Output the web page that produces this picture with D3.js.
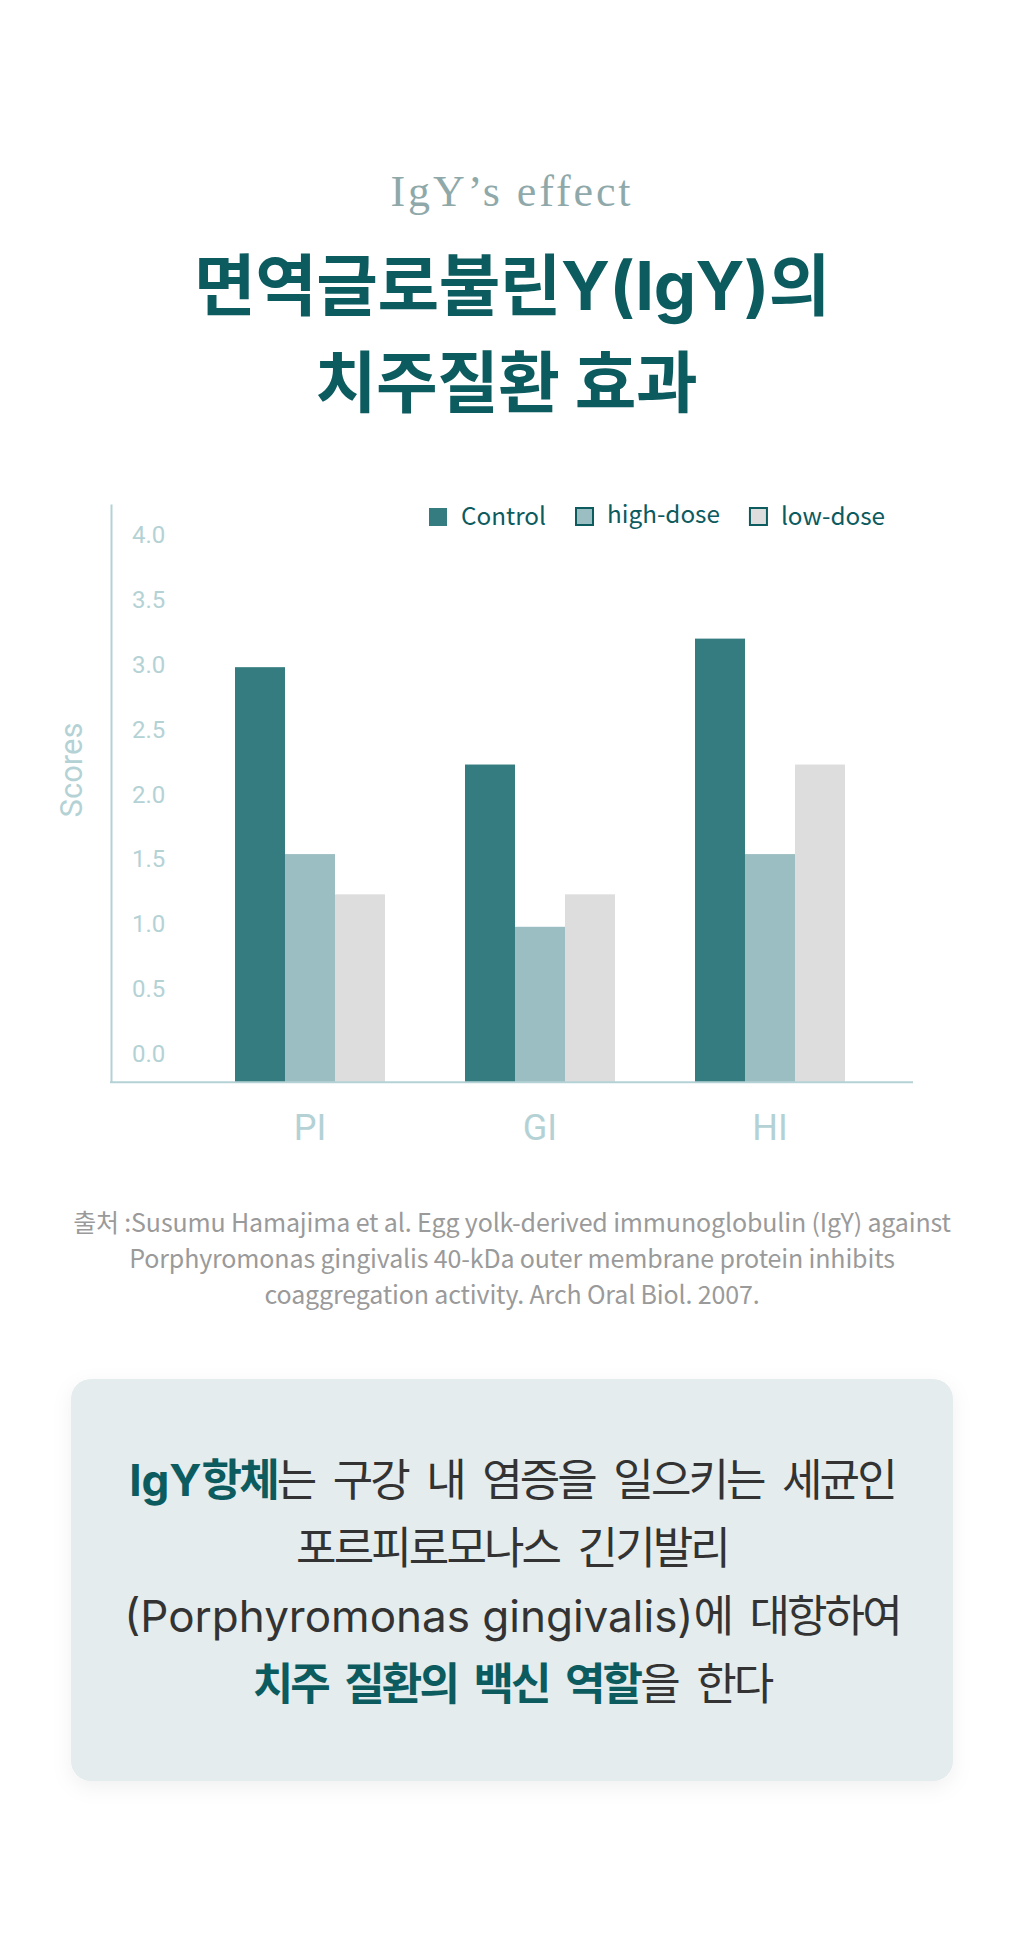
<!DOCTYPE html>
<html>
<head>
<meta charset="utf-8">
<script src="https://cdn.jsdelivr.net/npm/d3@7"></script>
<style>
  html, body { margin: 0; padding: 0; background: #fff; }
  svg { display: block; }
</style>
</head>
<body>
<div id="root"></div>
<script>
const categories = ['PI', 'GI', 'HI'];
const series = ['Control', 'high-dose', 'low-dose'];
const controlValues = [2.98, 2.23, 3.2];
const highDoseValues = [1.54, 0.98, 1.54];
const lowDoseValues = [1.23, 1.23, 2.23];
const yTicks = [0, 0.5, 1, 1.5, 2, 2.5, 3, 3.5, 4];

const subTitle = 'IgY\u2019s effect';
const titleLines = ['면역글로불린Y(IgY)의', '치주질환 효과'];
const sourceLines = [
    '출처 :Susumu Hamajima et al. Egg yolk-derived immunoglobulin (IgY) against',
    'Porphyromonas gingivalis 40-kDa outer membrane protein inhibits',
    'coaggregation activity. Arch Oral Biol. 2007.',
];
// [text, highlighted]
const boxLines = [
    [['IgY항체', true], ['는 구강 내 염증을 일으키는 세균인', false]],
    [['포르피로모나스 긴기발리', false]],
    [['(Porphyromonas gingivalis)에 대항하여', false]],
    [['치주 질환의 백신 역할', true], ['을 한다', false]],
];

const W = 1024;
const H = 1954;
const teal = '#0c5b5f';
const axisColor = '#b4d2d5';
const colors = d3.scaleOrdinal().domain(series).range(['#357c80', '#9abec1', '#dddddd']);
const kFont = "Inter, 'Noto Sans CJK KR', sans-serif";
const srcFont = "'Noto Sans CJK KR', 'Noto Sans', sans-serif";

const svg = d3.select('#root')
    .append('svg')
    .attr('width', W)
    .attr('height', H)
    .attr('viewBox', [0, 0, W, H]);

// heading
svg.append('text')
    .attr('x', W / 2)
    .attr('y', 206)
    .attr('text-anchor', 'middle')
    .style('font-family', "'Liberation Serif', serif")
    .style('font-size', '44px')
    .style('letter-spacing', '2.9px')
    .attr('fill', '#8fa9aa')
    .text(subTitle);

svg.append('g')
    .selectAll('text')
    .data(titleLines)
    .join('text')
    .attr('x', (d, i) => W / 2 - i * 6)
    .attr('y', (d, i) => 310 + i * 97)
    .attr('text-anchor', 'middle')
    .style('font-family', kFont)
    .style('font-weight', 700)
    .style('font-size', '67px')
    .style('letter-spacing', '-0.5px')
    .attr('fill', teal)
    .text(d => d);

// chart
const y = d3.scaleLinear()
    .domain([-0.218, 4.237])
    .range([1082.3, 504]);

const x0 = d3.scaleBand()
    .domain(categories)
    .range([195, 885])
    .paddingInner(80 / 230)
    .paddingOuter(40 / 230);

const x1 = d3.scaleBand()
    .domain(series)
    .range([0, x0.bandwidth()]);

const rows = categories.map((c, i) => ({
    cat: c,
    vals: [
        { key: series[0], value: controlValues[i] },
        { key: series[1], value: highDoseValues[i] },
        { key: series[2], value: lowDoseValues[i] },
    ],
}));

const groups = svg.append('g')
    .selectAll('g')
    .data(rows)
    .join('g')
    .attr('transform', d => `translate(${x0(d.cat)},0)`);

groups.selectAll('rect')
    .data(d => d.vals)
    .join('rect')
    .attr('x', d => x1(d.key))
    .attr('width', x1.bandwidth())
    .attr('y', d => y(d.value))
    .attr('height', d => y.range()[0] - y(d.value))
    .attr('fill', d => colors(d.key));

// y axis (labels sit inside the plot)
const yAxis = svg.append('g')
    .attr('transform', 'translate(111,0)')
    .call(d3.axisRight(y).tickValues(yTicks).tickSize(0).tickPadding(21).tickFormat(d3.format('.1f')));
yAxis.select('.domain').attr('stroke', axisColor).attr('stroke-width', 2);
yAxis.selectAll('text')
    .attr('fill', axisColor)
    .style('font-family', 'Roboto, sans-serif')
    .style('font-size', '24px');

// x axis
svg.append('line')
    .attr('x1', 110)
    .attr('x2', 913)
    .attr('y1', y.range()[0])
    .attr('y2', y.range()[0])
    .attr('stroke', axisColor)
    .attr('stroke-width', 2);

const xAxis = svg.append('g')
    .attr('transform', `translate(0,${y.range()[0]})`)
    .call(d3.axisBottom(x0).tickSize(0).tickPadding(32));
xAxis.select('.domain').remove();
xAxis.selectAll('text')
    .attr('fill', axisColor)
    .style('font-family', 'Roboto, sans-serif')
    .style('font-size', '36px');

svg.append('text')
    .attr('transform', 'translate(82,770) rotate(-90)')
    .attr('text-anchor', 'middle')
    .attr('fill', axisColor)
    .style('font-family', 'Roboto, sans-serif')
    .style('font-size', '31px')
    .text('Scores');

// legend
const legend = svg.append('g').attr('transform', 'translate(429,0)');
let lx = 0;
series.forEach((s, i) => {
    const item = legend.append('g').attr('transform', `translate(${lx},0)`);
    if (i === 0) {
        item.append('rect')
            .attr('x', 0).attr('y', 508)
            .attr('width', 18).attr('height', 18)
            .attr('fill', colors(s));
    } else {
        item.append('rect')
            .attr('x', 1).attr('y', 508)
            .attr('width', 17).attr('height', 17)
            .attr('fill', colors(s))
            .attr('stroke', teal)
            .attr('stroke-width', 2);
    }
    const t = item.append('text')
        .attr('x', 32)
        .attr('y', i === 1 ? 523 : 525)
        .attr('fill', teal)
        .style('font-family', srcFont)
        .style('font-size', '24.3px')
        .text(s);
    lx += 32 + t.node().getComputedTextLength() + 29;
});

// source
svg.append('g')
    .selectAll('text')
    .data(sourceLines)
    .join('text')
    .attr('x', W / 2)
    .attr('y', (d, i) => 1232 + i * 36)
    .attr('text-anchor', 'middle')
    .attr('fill', '#9a9a9a')
    .style('font-family', srcFont)
    .style('font-size', '25px')
    .style('letter-spacing', '-0.15px')
    .text(d => d);

// message box
const defs = svg.append('defs');
const shadow = defs.append('filter')
    .attr('id', 'shadow')
    .attr('x', '-10%').attr('y', '-10%')
    .attr('width', '120%').attr('height', '130%');
shadow.append('feDropShadow')
    .attr('dx', 0).attr('dy', 6)
    .attr('stdDeviation', 10)
    .attr('flood-color', '#000')
    .attr('flood-opacity', 0.06);

svg.append('rect')
    .attr('x', 71)
    .attr('y', 1379)
    .attr('width', 882)
    .attr('height', 402)
    .attr('rx', 20)
    .attr('fill', '#e4eced')
    .attr('filter', 'url(#shadow)');

// split each segment into hangul / latin / space runs so hangul can be set tighter
const isHangul = s => /[\uAC00-\uD7A3]/.test(s);
function runs(line) {
    const out = [];
    line.forEach(seg => {
        seg[0].match(/[\uAC00-\uD7A3]+|\s+|[^\uAC00-\uD7A3\s]+/g).forEach(p => {
            out.push({ text: p, bold: seg[1] });
        });
    });
    out.forEach((r, i) => {
        if (/\s/.test(r.text)) {
            const prev = out[i - 1];
            const next = out[i + 1];
            const latinGap = prev && next && !isHangul(prev.text) && !isHangul(next.text);
            r.kind = latinGap ? 'latin' : 'space';
        } else {
            r.kind = isHangul(r.text) ? 'hangul' : 'latin';
        }
    });
    return out;
}
const spacing = { hangul: -2.9, space: 6, latin: 0 };

svg.append('g')
    .selectAll('text')
    .data(boxLines)
    .join('text')
    .attr('x', W / 2)
    .attr('y', (d, i) => 1495.5 + i * 68)
    .attr('text-anchor', 'middle')
    .style('font-family', kFont)
    .style('font-size', '44px')
    .selectAll('tspan')
    .data(d => runs(d))
    .join('tspan')
    .attr('fill', d => (d.bold ? teal : '#333333'))
    .style('font-weight', d => (d.bold ? 700 : 400))
    .style('letter-spacing', d => `${spacing[d.kind]}px`)
    .style('white-space', 'pre')
    .text(d => d.text);
</script>
</body>
</html>
